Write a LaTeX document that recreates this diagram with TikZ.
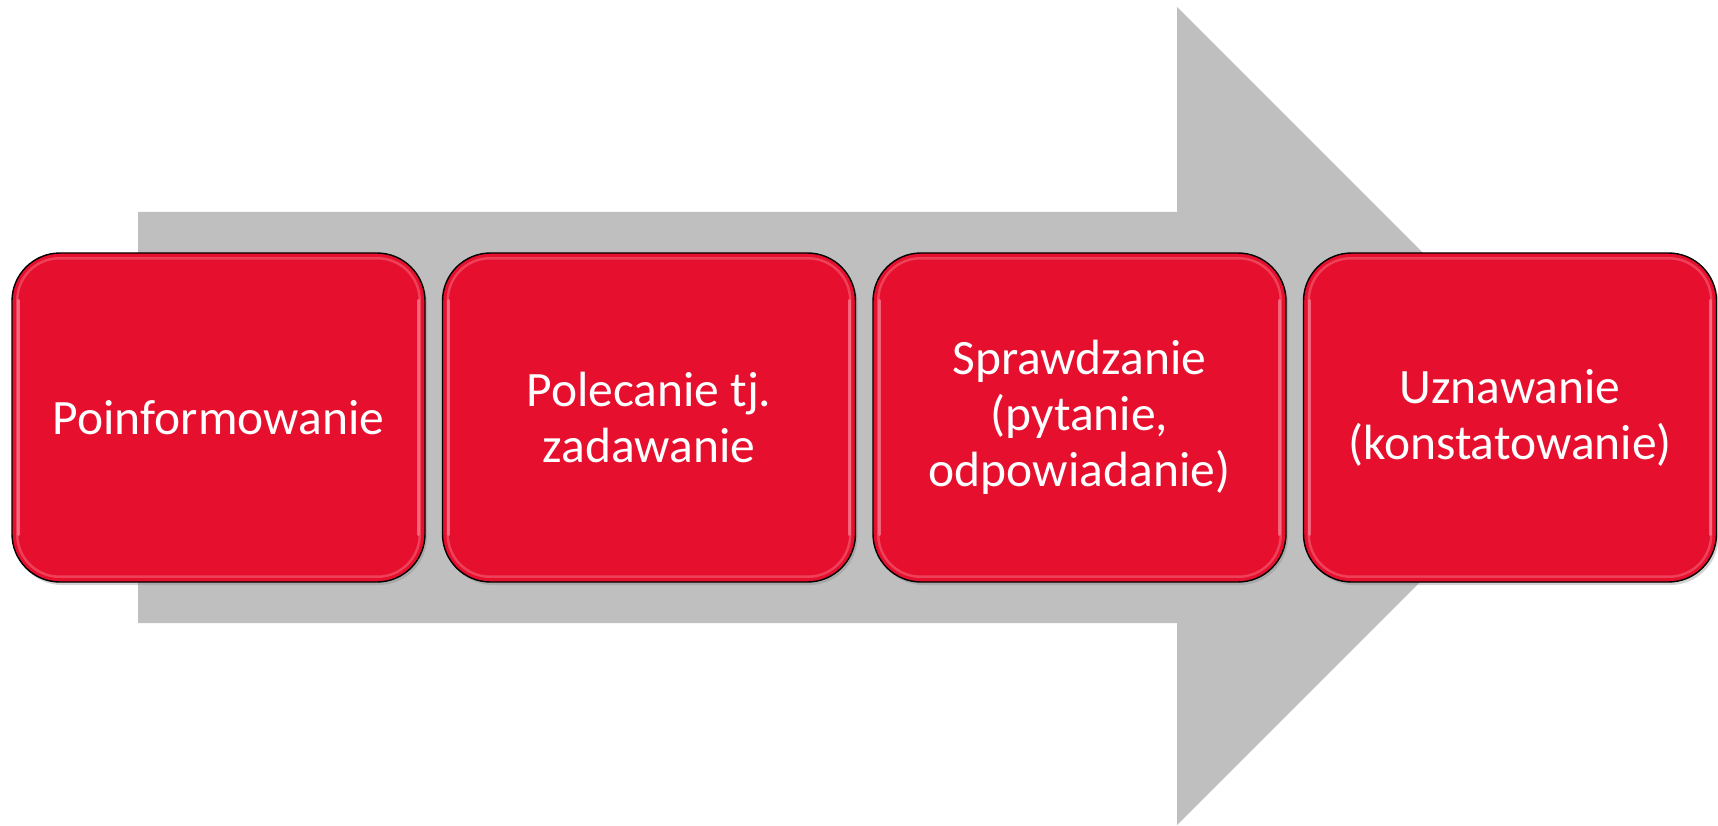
\documentclass[tikz,border=0pt]{standalone}
\usepackage{fontspec}
\setmainfont{Carlito}
\usetikzlibrary{shadows}
\definecolor{boxred}{HTML}{E60F2D}
\definecolor{arrowgray}{HTML}{BFBFBF}
\definecolor{glosspink}{HTML}{F87C90}
\begin{document}
\begin{tikzpicture}[x=1pt,y=-1pt,
  stepbox/.style={draw=black, line width=1.4pt, fill=boxred, rounded corners=48pt,
    minimum width=413pt, minimum height=329pt, align=center, text=white,
    font=\fontsize{49.5}{56}\selectfont, inner sep=0pt,
    drop shadow={shadow xshift=2pt, shadow yshift=-3pt, opacity=0.35}},
  glossrim/.style={draw=glosspink, line width=2.5pt, opacity=0.45, rounded corners=42pt},
  glossside/.style={draw=glosspink, line width=3pt, opacity=0.75, line cap=round}
]
\useasboundingbox (0,0) rectangle (1718,826);
% big grey arrow
\fill[arrowgray] (138,212) -- (1177,212) -- (1177,7) -- (1586,416) -- (1177,825) -- (1177,623) -- (138,623) -- cycle;
% boxes
\node[stepbox] (b1) at (218.5,417.5) {Poinformowanie};
\node[stepbox] (b2) at (649,417.5) {Polecanie tj.\\zadawanie};
\node[stepbox] (b3) at (1079.5,417.5) {Sprawdzanie\\(pytanie,\\odpowiadanie)};
\node[stepbox] (b4) at (1510,417.5) {Uznawanie\\(konstatowanie)};
% glossy inner rims
\foreach \b in {b1,b2,b3,b4}{
  \draw[glossrim] ([shift={(6,6)}]\b.north west) rectangle ([shift={(-6,-6)}]\b.south east);
  \draw[glossside] ([shift={(7,48)}]\b.north west) -- ([shift={(7,-48)}]\b.south west);
  \draw[glossside] ([shift={(-7,48)}]\b.north east) -- ([shift={(-7,-48)}]\b.south east);
}
\end{tikzpicture}
\end{document}
